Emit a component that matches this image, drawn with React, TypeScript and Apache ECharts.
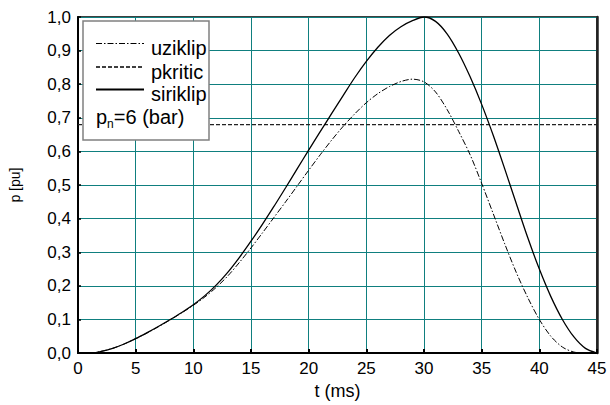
import React, { useEffect, useRef } from "react";
import * as echarts from "echarts";

const seriesNames = ["uziklip", "pkritic", "siriklip"];
const noteParts = ["p", "n", "=6 (bar)"];
const xAxisName = "t (ms)";
const yAxisName = "p [pu]";

const tValues = [
  0, 1, 2, 3, 4, 5, 6, 7, 8, 9, 10, 11, 12, 13, 14, 15, 16, 17, 18, 19, 20, 21, 22,
  23, 24, 25, 26, 27, 28, 29, 30, 31, 32, 33, 34, 35, 36, 37, 38, 39, 40, 41, 42, 43,
  44, 45,
];

const uziklipValues = [
  0, 0, 0.005, 0.014, 0.027, 0.043, 0.06, 0.079, 0.099, 0.12, 0.142, 0.167, 0.196,
  0.23, 0.27, 0.313, 0.358, 0.404, 0.45, 0.497, 0.544, 0.59, 0.634, 0.675, 0.712,
  0.745, 0.772, 0.793, 0.808, 0.815, 0.807, 0.777, 0.725, 0.66, 0.59, 0.505, 0.415,
  0.325, 0.24, 0.165, 0.1, 0.05, 0.018, 0.003, 0, 0,
];

const siriklipValues = [
  0, 0, 0.005, 0.014, 0.027, 0.043, 0.061, 0.08, 0.1, 0.121, 0.144, 0.171, 0.203,
  0.241, 0.285, 0.333, 0.384, 0.437, 0.492, 0.548, 0.604, 0.659, 0.713, 0.767, 0.82,
  0.868, 0.91, 0.945, 0.971, 0.989, 1.0, 0.987, 0.95, 0.893, 0.822, 0.74, 0.648,
  0.548, 0.445, 0.343, 0.25, 0.168, 0.1, 0.048, 0.014, 0,
];

const pkriticT = [0, 45];
const pkriticValues = [0.68, 0.68];

const FONT = "'Liberation Sans', Arial, sans-serif";
const GRID_COLOR = "#0f7f7f";
const DASH_DOT = [6, 2, 1.5, 2];
const DASH = [4, 2];

function zip(xs: number[], ys: number[]) {
  return xs.map((x, i) => [x, ys[i]]);
}

export default function App() {
  const ref = useRef<HTMLDivElement>(null);

  useEffect(() => {
    if (!ref.current) return;
    const chart = echarts.init(ref.current, undefined, { renderer: "svg" });
    const legendRowsY = [43.5, 67, 89.5];
    const legendTextY = [48, 71.5, 94];
    const legendStyles = [
      { lineDash: DASH_DOT, lineWidth: 1 },
      { lineDash: DASH, lineWidth: 1.3 },
      { lineDash: null as any, lineWidth: 2 },
    ];
    const graphic: any[] = [
      {
        type: "rect",
        z: 100,
        shape: { x: 83, y: 21, width: 126, height: 119 },
        style: { fill: "#fff", stroke: "#808080", lineWidth: 1.5 },
      },
    ];
    seriesNames.forEach((name, i) => {
      graphic.push({
        type: "line",
        z: 101,
        shape: { x1: 96, y1: legendRowsY[i], x2: 144, y2: legendRowsY[i] },
        style: {
          stroke: "#000",
          lineWidth: legendStyles[i].lineWidth,
          lineDash: legendStyles[i].lineDash,
        },
      });
      graphic.push({
        type: "text",
        z: 101,
        x: 151,
        y: legendTextY[i],
        style: {
          text: name,
          fontSize: 20,
          fontFamily: FONT,
          fill: "#000",
          align: "left",
          verticalAlign: "middle",
        },
      });
    });
    graphic.push({
      type: "text",
      z: 101,
      x: 96,
      y: 117,
      style: {
        text: `{a|${noteParts[0]}}{b|${noteParts[1]}}{a|${noteParts[2]}}`,
        fontFamily: FONT,
        fill: "#000",
        align: "left",
        verticalAlign: "middle",
        rich: {
          a: { fontSize: 20, fontFamily: FONT, fill: "#000", lineHeight: 26, verticalAlign: "middle" },
          b: { fontSize: 12, fontFamily: FONT, fill: "#000", lineHeight: 12, verticalAlign: "bottom" },
        },
      },
    });

    chart.setOption({
      animation: false,
      backgroundColor: "#fff",
      grid: {
        left: 78,
        right: 13,
        top: 17,
        bottom: 48,
        show: true,
        borderColor: "#000",
        borderWidth: 1.5,
      },
      xAxis: {
        type: "value",
        min: 0,
        max: 45,
        interval: 5,
        name: xAxisName,
        nameLocation: "middle",
        nameGap: 26,
        nameTextStyle: { fontSize: 18, fontFamily: FONT, color: "#000" },
        axisLine: { show: true, lineStyle: { color: "#000", width: 2 } },
        axisTick: { show: true, inside: true, length: 4, lineStyle: { color: "#000", width: 2 } },
        axisLabel: { fontSize: 17, fontFamily: FONT, color: "#000", margin: 7 },
        splitLine: { show: true, lineStyle: { color: GRID_COLOR, width: 1 } },
      },
      yAxis: [
        {
          type: "value",
          min: 0,
          max: 1,
          interval: 0.1,
          name: yAxisName,
          nameLocation: "middle",
          nameGap: 56,
          nameTextStyle: { fontSize: 14, fontFamily: FONT, color: "#000" },
          axisLine: { show: true, lineStyle: { color: "#000", width: 2 } },
          axisTick: { show: true, inside: true, length: 3, lineStyle: { color: "#000", width: 1.5 } },
          axisLabel: {
            fontSize: 17,
            fontFamily: FONT,
            color: "#000",
            margin: 7,
            formatter: (v: number) => v.toFixed(1).replace(".", ","),
          },
          splitLine: { show: true, lineStyle: { color: GRID_COLOR, width: 1 } },
        },
        {
          type: "value",
          position: "right",
          min: 0,
          max: 1,
          interval: 0.1,
          axisLine: { show: true, lineStyle: { color: "#222", width: 2.5 } },
          axisTick: { show: false },
          axisLabel: { show: false },
          splitLine: { show: false },
        },
      ],
      series: [
        {
          name: seriesNames[0],
          type: "line",
          data: zip(tValues, uziklipValues),
          smooth: 0.3,
          showSymbol: false,
          z: 5,
          lineStyle: { color: "#000", width: 1, type: DASH_DOT },
        },
        {
          name: seriesNames[1],
          type: "line",
          data: zip(pkriticT, pkriticValues),
          showSymbol: false,
          z: 5,
          lineStyle: { color: "#222", width: 1.3, type: DASH },
        },
        {
          name: seriesNames[2],
          type: "line",
          data: zip(tValues, siriklipValues),
          smooth: 0.3,
          showSymbol: false,
          z: 5,
          lineStyle: { color: "#000", width: 1.3 },
        },
      ],
      graphic,
    });
    return () => chart.dispose();
  }, []);

  return (
    <div
      ref={ref}
      style={{ position: "fixed", left: 0, top: 0, width: 610, height: 405, background: "#fff" }}
    />
  );
}
